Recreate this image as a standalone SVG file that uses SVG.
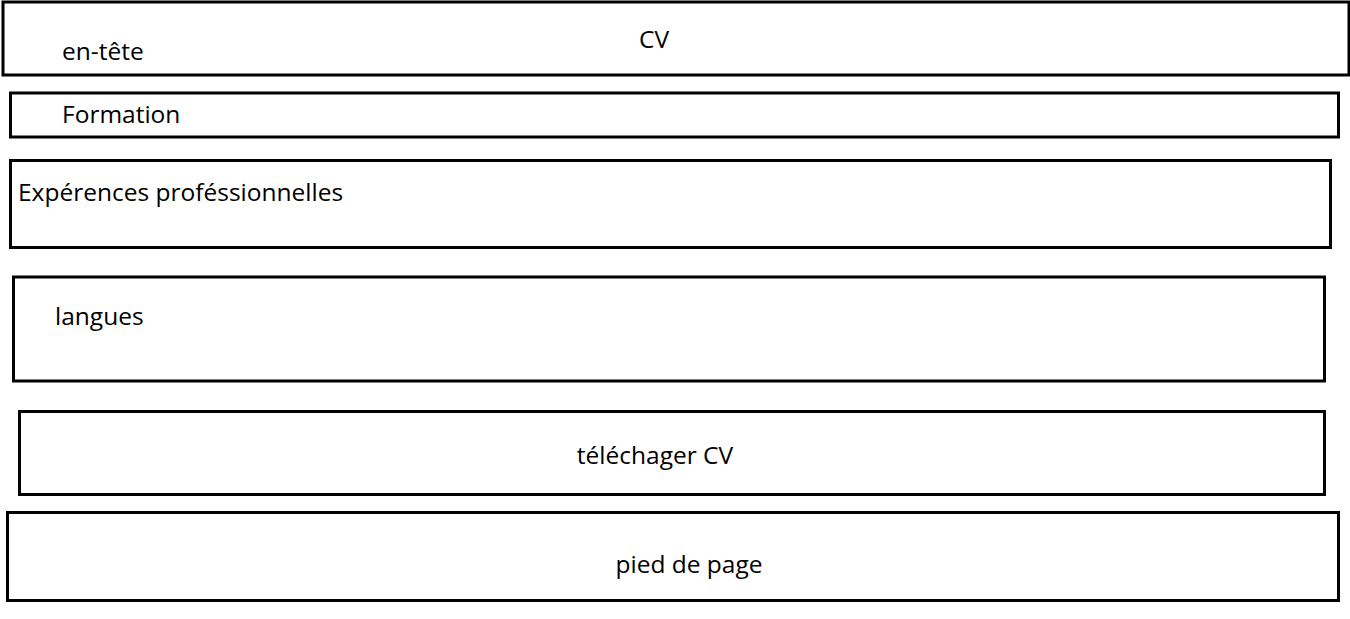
<svg xmlns="http://www.w3.org/2000/svg" width="1350" height="619" viewBox="0 0 1350 619">
<style>
.box{fill:#fff;stroke:#000;stroke-width:3}
.t{font-family:"Open Sans","Noto Sans","DejaVu Sans",sans-serif;font-size:24.5px;fill:#000}
.m{text-anchor:middle}
</style>
<rect width="1350" height="619" fill="#fff"/>
<g id="entete"><rect class="box" x="3" y="2" width="1346" height="73"/><text class="t m" x="654" y="48">CV</text><text class="t" x="62" y="60">en-tête</text></g>
<g id="formation"><rect class="box" x="10.5" y="93" width="1328" height="44"/><text class="t" x="62" y="123">Formation</text></g>
<g id="experiences"><rect class="box" x="10.5" y="160.5" width="1320" height="87"/><text class="t" x="18" y="201">Expérences proféssionnelles</text></g>
<g id="langues"><rect class="box" x="13.5" y="277" width="1311" height="104"/><text class="t" x="55" y="325">langues</text></g>
<g id="telecharger"><rect class="box" x="19.5" y="411.5" width="1305" height="83"/><text class="t m" x="655" y="464">téléchager CV</text></g>
<g id="pied"><rect class="box" x="7.5" y="512.5" width="1331" height="88"/><text class="t m" x="689" y="573">pied de page</text></g>
<g id="connectors"/>
</svg>
